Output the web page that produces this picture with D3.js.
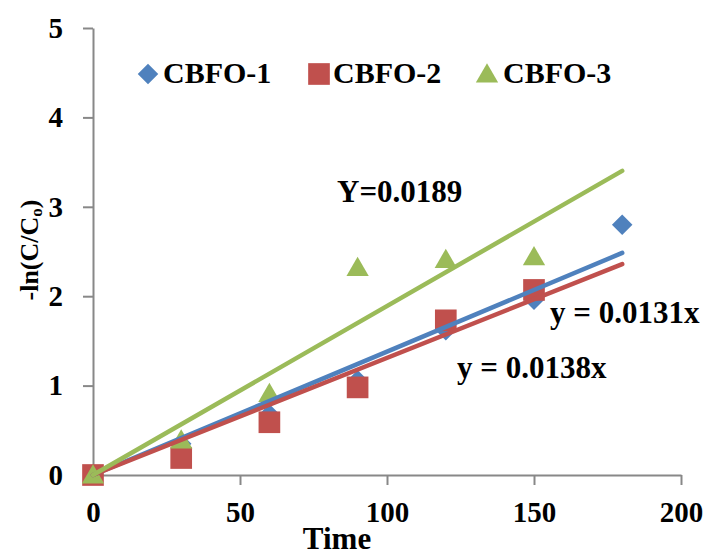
<!DOCTYPE html>
<html>
<head>
<meta charset="utf-8">
<script src="https://cdnjs.cloudflare.com/ajax/libs/d3/7.8.5/d3.min.js"></script>
<style>
  body { margin: 0; background: #fff; }
  text { font-family: "Liberation Serif", "Times New Roman", serif; font-weight: bold; fill: #000; }
</style>
</head>
<body>
<div id="chart"></div>
<script>
// data
var times = [0, 30, 60, 90, 120, 150, 180];
var cbfo1 = [0, 0.35, 0.68, 1.06, 1.62, 1.96, 2.80];
var cbfo2 = [0, 0.19, 0.59, 0.98, 1.73, 2.07];
var cbfo3 = [0, 0.39, 0.91, 2.32, 2.41, 2.44];
var seriesNames = ['CBFO-1', 'CBFO-2', 'CBFO-3'];
var slopes = [0.0138, 0.0131, 0.0189];
var eqLabels = ['y = 0.0138x', 'y = 0.0131x', 'Y=0.0189'];
var fitRange = [0, 180];
var xTicks = [0, 50, 100, 150, 200];
var yTicks = [0, 1, 2, 3, 4, 5];

var colors = ['#4F81BD', '#C0504D', '#9BBB59'];

var width = 710, height = 556;
var svg = d3.select('#chart').append('svg')
  .attr('width', width)
  .attr('height', height);

var x = d3.scaleLinear().domain([0, 200]).range([93, 681]);
var y = d3.scaleLinear().domain([0, 5]).range([475, 28]);

// axes
var xAxis = svg.append('g')
  .attr('transform', 'translate(0,' + y(0) + ')')
  .call(d3.axisBottom(x).tickValues(xTicks).tickFormat(d3.format('d'))
    .tickSize(10).tickSizeOuter(0).tickPadding(16));
var yAxis = svg.append('g')
  .attr('transform', 'translate(' + x(0) + ',0)')
  .call(d3.axisLeft(y).tickValues(yTicks).tickFormat(d3.format('d'))
    .tickSize(10).tickSizeOuter(0).tickPadding(20));

[xAxis, yAxis].forEach(function(ax){
  ax.select('.domain').attr('stroke', '#888').attr('stroke-width', 2);
  ax.selectAll('.tick line').attr('stroke', '#888').attr('stroke-width', 2);
  ax.selectAll('.tick text')
    .style('font-family', '"Liberation Serif", "Times New Roman", serif')
    .style('font-weight', 'bold')
    .style('font-size', '29px')
    .attr('fill', '#000');
});

// symbols
var diamond = d3.symbol().type(d3.symbolSquare).size(210);
var square = d3.symbol().type(d3.symbolSquare).size(470);
var triangle = d3.symbol().type(d3.symbolTriangle).size(215);
var shapes = [
  function(sel){ return sel.attr('d', diamond).attr('transform', function(d){ return 'translate(' + d[0] + ',' + d[1] + ') rotate(45)'; }); },
  function(sel){ return sel.attr('d', square).attr('transform', function(d){ return 'translate(' + d[0] + ',' + d[1] + ')'; }); },
  function(sel){ return sel.attr('d', triangle).attr('transform', function(d){ return 'translate(' + d[0] + ',' + (d[1] + 2) + ')'; }); }
];

var allSeries = [cbfo1, cbfo2, cbfo3];

// markers
allSeries.forEach(function(vals, i){
  var pts = vals.map(function(v, j){ return [x(times[j]), y(v)]; });
  svg.append('g').selectAll('path')
    .data(pts)
    .enter()
    .append('path')
    .attr('fill', colors[i])
    .call(shapes[i]);
});

// linear fits through origin
var line = d3.line()
  .x(function(d){ return x(d[0]); })
  .y(function(d){ return y(d[1]); });
slopes.forEach(function(k, i){
  svg.append('path')
    .datum(fitRange.map(function(t){ return [t, k * t]; }))
    .attr('d', line)
    .attr('fill', 'none')
    .attr('stroke', colors[i])
    .attr('stroke-width', 4.5)
    .attr('stroke-linecap', 'round');
});

// equation labels
var eqPos = [[457, 378], [550, 323], [337, 202]];
eqLabels.forEach(function(t, i){
  svg.append('text')
    .attr('x', eqPos[i][0])
    .attr('y', eqPos[i][1])
    .style('font-size', '31px')
    .text(t);
});

// legend
var legendItems = [
  {sym: 148, txt: 163},
  {sym: 319, txt: 333},
  {sym: 487, txt: 503}
];
seriesNames.forEach(function(name, i){
  svg.append('path')
    .datum([legendItems[i].sym, 74])
    .attr('fill', colors[i])
    .call(shapes[i]);
  svg.append('text')
    .attr('x', legendItems[i].txt)
    .attr('y', 83)
    .style('font-size', '30px')
    .text(name);
});

// axis titles
svg.append('text')
  .attr('x', 337)
  .attr('y', 549)
  .attr('text-anchor', 'middle')
  .style('font-size', '31px')
  .text('Time');

var yt = svg.append('text')
  .attr('transform', 'translate(38,250) rotate(-90)')
  .attr('text-anchor', 'middle')
  .style('font-size', '26px');
yt.append('tspan').text('-ln(C/C');
yt.append('tspan').attr('baseline-shift', '-25%').style('font-size', '17px').text('o');
yt.append('tspan').text(')');
</script>
</body>
</html>
